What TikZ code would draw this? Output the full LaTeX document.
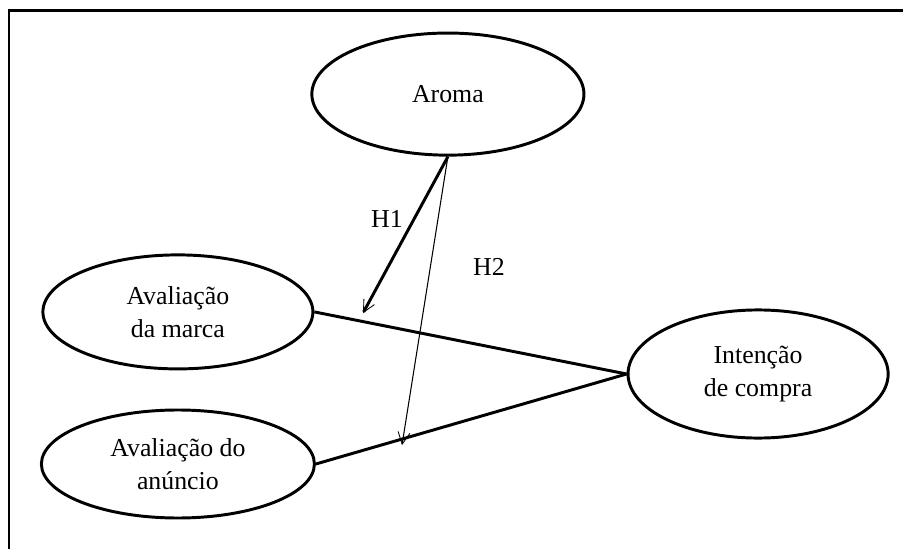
\documentclass[tikz,border=0pt]{standalone}
\usepackage{fontspec}
\setmainfont{Liberation Serif}
\usetikzlibrary{arrows.meta,shapes.geometric,positioning}

\tikzset{
  construct/.style={ellipse, draw, line width=2.8pt, inner sep=0pt, align=center,
                    font=\fontsize{24.5}{31}\selectfont},
  path link/.style={line width=2.8pt},
  hyp/.style={-{Straight Barb[length=4mm, width=4mm, line width=0.8pt]}},
  hyplabel/.style={font=\fontsize{24.5}{30}\selectfont}
}

\begin{document}
\begin{tikzpicture}
  \def\W{30.1}
  \def\H{18.267}

  % Fixed bounding box (903 x 548)
  \path[use as bounding box] (0,0) rectangle (\W,\H);
  \clip (0,0) rectangle (\W,\H);

  % ---- Frame (only left and top edges inside the page) ----
  \draw[line width=2.8pt] (0.3,-1) |- (\W+1,17.93);

  % ---- Constructs ----
  \node[construct, minimum width=9.07cm, minimum height=4.07cm] (aroma) at (14.93,15.13) {Aroma};
  \node[construct, minimum width=9.0cm, minimum height=3.8cm] (marca) at (5.93,7.87) {Avaliação\\da marca};
  \node[construct, minimum width=9.1cm, minimum height=3.6cm] (anuncio) at (5.93,2.8) {Avaliação do\\anúncio};
  \node[construct, minimum width=8.67cm, minimum height=4.27cm] (intencao) at (25.27,5.8) {Intenção\\de compra};

  % ---- Paths to purchase intention ----
  \draw[path link] (marca.east) -- (intencao.west);
  \draw[path link] (anuncio.east) -- (intencao.west);

  % ---- Hypotheses H1 and H2 ----
  \coordinate (h1end) at (12.1,7.83);
  \coordinate (h2end) at (13.4,3.43);
  \draw[hyp, line width=2.8pt] (aroma.south) -- (h1end);
  \draw[hyp, line width=1pt] (aroma.south) -- (h2end);
  \node[hyplabel] (h1) at (12.9,10.97) {H1};
  \node[hyplabel] (h2) at (16.3,9.37) {H2};

\end{tikzpicture}
\end{document}
